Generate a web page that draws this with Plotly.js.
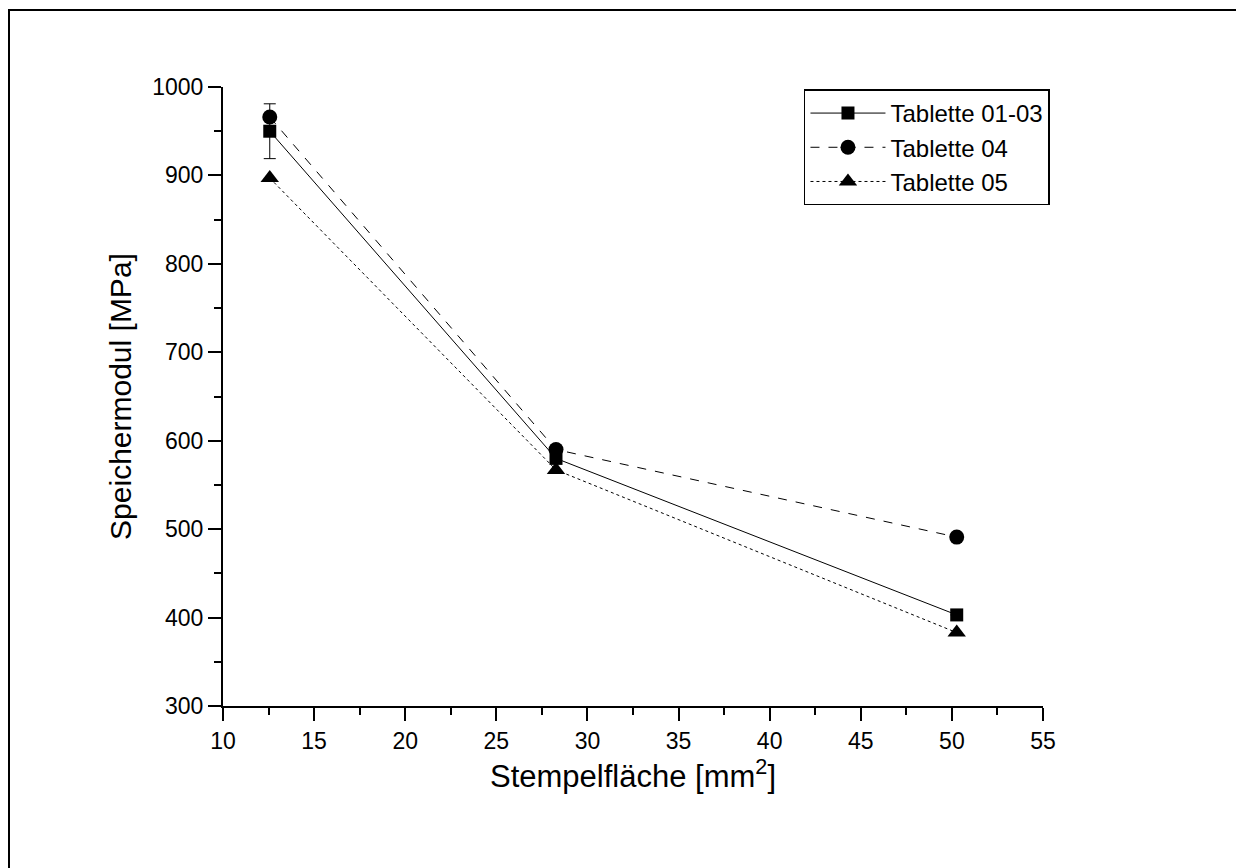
<!DOCTYPE html>
<html>
<head>
<meta charset="utf-8">
<script src="https://cdn.plot.ly/plotly-3.0.1.min.js"></script>
<style>
html,body{margin:0;padding:0;background:#fff;}
#chart{width:1236px;height:868px;}
</style>
</head>
<body>
<div id="chart"></div>
<script>
const stempelflaeche = [12.566, 28.274, 50.265];
const tablette0103 = [950, 580, 403];
const tablette0103Err = [31, null, null];
const tablette04 = [966, 590, 491];
const tablette05 = [897, 567, 383];
const seriesNames = ["Tablette 01-03", "Tablette 04", "Tablette 05"];
const xTitle = "Stempelfläche [mm<sup>2</sup>]";
const yTitle = "Speichermodul [MPa]";

const traces = [
  {
    x: stempelflaeche, y: tablette0103, name: seriesNames[0],
    type: "scatter", mode: "lines+markers",
    line: {color: "#000", width: 1, dash: "solid"},
    marker: {symbol: "square", size: 13, color: "#000"},
    error_y: {type: "data", array: tablette0103Err, visible: true, color: "#000", thickness: 1, width: 6}
  },
  {
    x: stempelflaeche, y: tablette04, name: seriesNames[1],
    type: "scatter", mode: "lines+markers",
    line: {color: "#000", width: 1, dash: "dash"},
    marker: {symbol: "circle", size: 15, color: "#000"}
  },
  {
    x: stempelflaeche, y: tablette05, name: seriesNames[2],
    type: "scatter", mode: "lines+markers",
    line: {color: "#000", width: 1, dash: "dot"},
    marker: {symbol: "triangle-up", size: 16, color: "#000"}
  }
];

const font = {family: "Liberation Sans, Arial, sans-serif", color: "#000"};

const layout = {
  width: 1236, height: 868,
  paper_bgcolor: "#fff", plot_bgcolor: "#fff",
  margin: {l: 223, r: 193, t: 87, b: 162, pad: 0},
  showlegend: true,
  font: Object.assign({size: 23}, font),
  xaxis: {
    range: [10, 55], autorange: false,
    tick0: 10, dtick: 5,
    ticks: "outside", ticklen: 13, tickwidth: 2, tickcolor: "#000",
    showline: true, linewidth: 2, linecolor: "#000",
    showgrid: false, zeroline: false,
    tickfont: Object.assign({size: 23}, font),
    minor: {ticks: "outside", dtick: 2.5, ticklen: 7, tickwidth: 2, tickcolor: "#000", showgrid: false}
  },
  yaxis: {
    range: [300, 1000], autorange: false,
    tick0: 300, dtick: 100,
    ticks: "outside", ticklen: 13, tickwidth: 2, tickcolor: "#000",
    showline: true, linewidth: 2, linecolor: "#000",
    showgrid: false, zeroline: false,
    tickfont: Object.assign({size: 23}, font),
    minor: {ticks: "outside", dtick: 50, ticklen: 7, tickwidth: 2, tickcolor: "#000", showgrid: false},
    title: {text: yTitle, font: Object.assign({size: 30}, font), standoff: 12}
  },
  legend: {
    x: 0.7085, y: 0.996, xanchor: "left", yanchor: "top",
    bgcolor: "#fff", bordercolor: "#000", borderwidth: 1.5,
    font: Object.assign({size: 24}, font),
    tracegroupgap: 0, itemwidth: 75
  },
  annotations: [
    {text: xTitle, xref: "paper", yref: "paper", x: 0.5, y: -0.11,
     xanchor: "center", yanchor: "middle", showarrow: false,
     font: Object.assign({size: 31}, font)}
  ],
  shapes: [
    {type: "rect", xref: "paper", yref: "paper",
     x0: (9 - 223) / 820, x1: 1.4, y0: -0.5, y1: (706 - 10) / 619,
     line: {color: "#000", width: 2}, fillcolor: "rgba(0,0,0,0)", layer: "below"}
  ]
};

Plotly.newPlot("chart", traces, layout, {displayModeBar: false, staticPlot: true});
</script>
</body>
</html>
